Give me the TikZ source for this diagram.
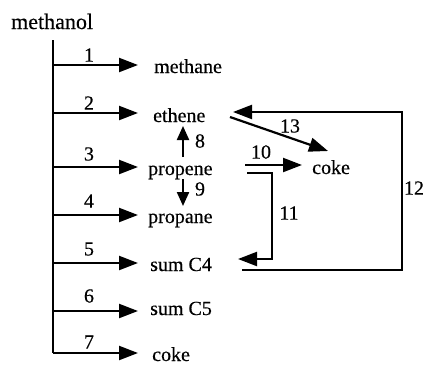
\documentclass[tikz,border=0pt]{standalone}
\usepackage{fontspec}
\setmainfont[FakeBold=0.4]{Liberation Serif}
\usetikzlibrary{arrows.meta}
\begin{document}
\begin{tikzpicture}[x=1pt,y=-1pt,
  arr/.style={line width=2.2pt,-{Triangle[length=19pt,width=14pt]}},
  sarr/.style={line width=2.2pt,-{Triangle[length=14pt,width=12pt]}},
  ln/.style={line width=2.2pt},
  txt/.style={inner sep=0pt,anchor=base west,font=\fontsize{20}{22}\selectfont},
  num/.style={inner sep=0pt,font=\fontsize{20}{22}\selectfont}]
\useasboundingbox (0,0) rectangle (428,365);
% source
\node[txt,font=\fontsize{22}{24}\selectfont] (methanol) at (11,29) {methanol};
\coordinate (top) at (53,40);
\coordinate (bot) at (53,353);
\draw[ln] (top) -- (bot);
% products
\node[txt] (methane) at (154,73) {methane};
\node[txt] (ethene) at (153,122) {ethene};
\node[txt] (propene) at (148,175) {propene};
\node[txt] (propane) at (148,223) {propane};
\node[txt] (sumcf) at (150,271) {sum C4};
\node[txt] (sumcv) at (150,315) {sum C5};
\node[txt] (coke) at (152,361) {coke};
\node[txt] (cokeb) at (312,174) {coke};
% trunk points
\coordinate (a1) at (53,65);
\coordinate (a2) at (53,113);
\coordinate (a3) at (53,167);
\coordinate (a4) at (53,215);
\coordinate (a5) at (53,263);
\coordinate (a6) at (53,311);
\coordinate (a7) at (53,353);
\draw[arr,shorten >=16pt] (a1) -- (a1 -| methane.west);
\draw[arr,shorten >=15pt] (a2) -- (a2 -| ethene.west);
\draw[arr,shorten >=10pt] (a3) -- (a3 -| propene.west);
\draw[arr,shorten >=10pt] (a4) -- (a4 -| propane.west);
\draw[arr,shorten >=12pt] (a5) -- (a5 -| sumcf.west);
\draw[arr,shorten >=12pt] (a6) -- (a6 -| sumcv.west);
\draw[arr,shorten >=14pt] (a7) -- (a7 -| coke.west);
\node[num] (n1) at (89,55) {1};
\node[num] (n2) at (89,103) {2};
\node[num] (n3) at (89,154) {3};
\node[num] (n4) at (89,201) {4};
\node[num] (n5) at (89,249) {5};
\node[num] (n6) at (89,296) {6};
\node[num] (n7) at (89,342) {7};
% 8 and 9
\coordinate (p8a) at (183,157);
\coordinate (p8b) at (183,126);
\draw[sarr] (p8a) -- (p8b);
\node[num] (n8) at (200,141) {8};
\coordinate (p9a) at (183,179);
\coordinate (p9b) at (183,206);
\draw[sarr] (p9a) -- (p9b);
\node[num] (n9) at (200,189) {9};
% 10
\coordinate (p10) at (245,165);
\draw[arr,shorten >=10pt] (p10) -- (p10 -| cokeb.west);
\node[num] (n10) at (261,152) {10};
% 11
\coordinate (p11a) at (247,173);
\coordinate (p11b) at (272,173);
\coordinate (p11c) at (272,259);
\coordinate (p11d) at (238,259);
\draw[arr] (p11a) -- (p11b) -- (p11c) -- (p11d);
\node[num] (n11) at (289,213) {11};
% 12
\coordinate (p12a) at (242,270);
\coordinate (p12b) at (402,270);
\coordinate (p12c) at (402,112);
\coordinate (p12d) at (233,112);
\draw[arr] (p12a) -- (p12b) -- (p12c) -- (p12d);
\node[num] (n12) at (414,188) {12};
% 13
\coordinate (p13a) at (230,117);
\coordinate (p13b) at (328,151);
\draw[arr] (p13a) -- (p13b);
\node[num] (n13) at (290,126) {13};
\end{tikzpicture}
\end{document}
